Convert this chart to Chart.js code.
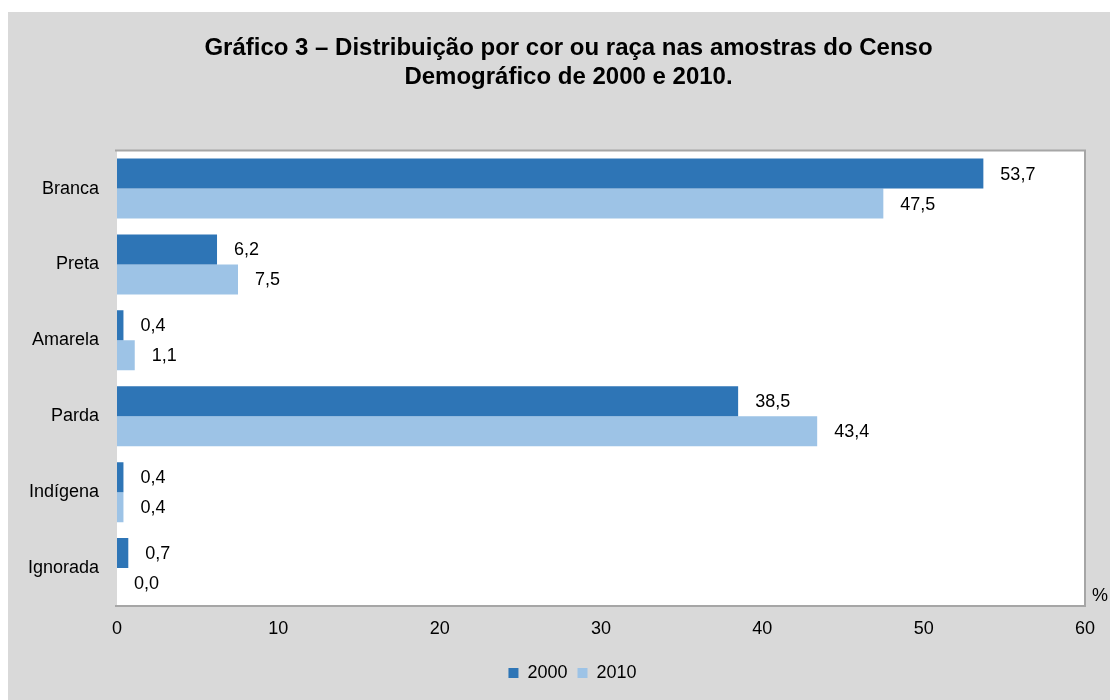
<!DOCTYPE html>
<html>
<head>
<meta charset="utf-8">
<script src="https://cdn.jsdelivr.net/npm/chart.js@4.4.1/dist/chart.umd.min.js"></script>
<style>
  html, body { margin: 0; padding: 0; background: #ffffff; }
  #wrap { position: absolute; left: 8px; top: 12px; width: 1102px; height: 688px; background: #d9d9d9; }
  canvas { display: block; }
</style>
</head>
<body>
<div id="wrap"><canvas id="c" width="1102" height="688"></canvas></div>
<script>
const categories = ["Branca", "Preta", "Amarela", "Parda", "Indígena", "Ignorada"];
const values2000 = [53.7, 6.2, 0.4, 38.5, 0.4, 0.7];
const values2010 = [47.5, 7.5, 1.1, 43.4, 0.4, 0.0];
const seriesNames = ["2000", "2010"];
const xTicks = [0, 10, 20, 30, 40, 50, 60];
const titleLines = ["Gráfico 3 – Distribuição por cor ou raça nas amostras do Censo", "Demográfico de 2000 e 2010."];
const unitLabel = "%";

const FONT = "'Liberation Sans', Arial, sans-serif";

const areaPlugin = {
  id: 'area',
  afterLayout(chart) {
    // centre title and legend the way the original does (shifted right)
    if (chart.titleBlock) { chart.titleBlock.left += 44; }
    if (chart.legend) { chart.legend.left += 52; }
  },
  beforeDatasetsDraw(chart) {
    const { ctx, chartArea: a } = chart;
    ctx.save();
    ctx.fillStyle = '#ffffff';
    ctx.fillRect(a.left, a.top, a.right - a.left, a.bottom - a.top);
    ctx.strokeStyle = '#a6a6a6';
    ctx.lineWidth = 2;
    ctx.beginPath();
    ctx.moveTo(a.left - 2, a.top);
    ctx.lineTo(a.right, a.top);
    ctx.lineTo(a.right, a.bottom);
    ctx.lineTo(a.left - 2, a.bottom);
    ctx.stroke();
    ctx.restore();
  },
  afterDatasetsDraw(chart) {
    const { ctx, chartArea: a } = chart;
    ctx.save();
    ctx.font = '18px ' + FONT;
    ctx.fillStyle = '#000000';
    ctx.textBaseline = 'middle';
    ctx.textAlign = 'left';
    chart.data.datasets.forEach((ds, i) => {
      const meta = chart.getDatasetMeta(i);
      meta.data.forEach((el, j) => {
        const v = ds.data[j];
        ctx.fillText(v.toFixed(1).replace('.', ','), el.x + 17, el.y + 1);
      });
    });
    ctx.fillText(unitLabel, a.right + 7, a.bottom - 10);
    ctx.restore();
  }
};

new Chart(document.getElementById('c'), {
  type: 'bar',
  data: {
    labels: categories,
    datasets: [
      { label: seriesNames[0], data: values2000, backgroundColor: '#2e75b6', borderWidth: 0 },
      { label: seriesNames[1], data: values2010, backgroundColor: '#9dc3e6', borderWidth: 0 }
    ]
  },
  options: {
    indexAxis: 'y',
    responsive: false,
    animation: false,
    devicePixelRatio: 1,
    layout: { padding: { left: 0, right: 25, top: 0, bottom: 8 } },
    datasets: { bar: { categoryPercentage: 0.79, barPercentage: 1.0 } },
    scales: {
      x: {
        min: 0, max: 60,
        afterBuildTicks(axis) { axis.ticks = xTicks.map(v => ({ value: v })); },
        afterFit(axis) { axis.height = 48; },
        grid: { display: false, drawTicks: false },
        border: { display: false },
        ticks: { padding: 12, color: '#000000', font: { family: FONT, size: 18 } }
      },
      y: {
        afterFit(axis) { axis.width = 109; },
        grid: { display: false, drawTicks: false },
        border: { display: false },
        ticks: { padding: 18, color: '#000000', font: { family: FONT, size: 18 } }
      }
    },
    plugins: {
      title: {
        display: true,
        text: titleLines,
        color: '#000000',
        font: { family: FONT, size: 24, weight: 'bold', lineHeight: 1.2 },
        padding: { top: 22, bottom: 59 }
      },
      legend: {
        position: 'bottom',
        labels: {
          color: '#000000',
          boxWidth: 10, boxHeight: 10,
          padding: 10,
          font: { family: FONT, size: 18 }
        }
      },
      tooltip: { enabled: false }
    }
  },
  plugins: [areaPlugin]
});
</script>
</body>
</html>
